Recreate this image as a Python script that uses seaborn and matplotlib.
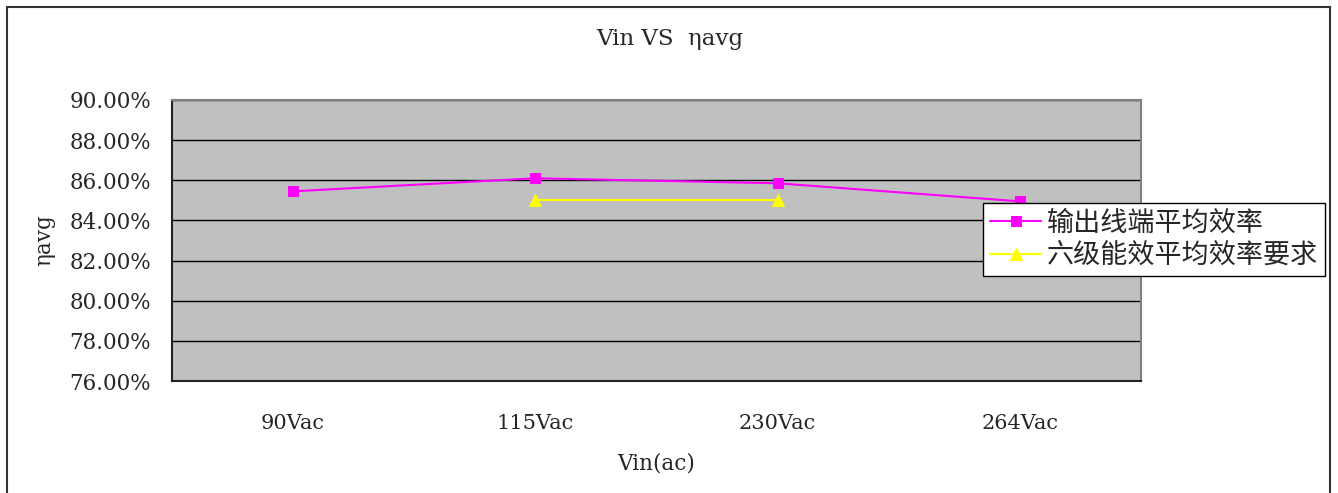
import matplotlib
matplotlib.use("Agg")
import matplotlib.pyplot as plt
from matplotlib.patches import Rectangle
from matplotlib.ticker import FixedLocator, FuncFormatter
import seaborn as sns
import pandas as pd

categories = ["90Vac", "115Vac", "230Vac", "264Vac"]
eff_output = [85.45, 86.10, 85.85, 84.95]
req_categories = ["115Vac", "230Vac"]
eff_required = [85.0, 85.0]
series_names = ["输出线端平均效率", "六级能效平均效率要求"]
y_ticks = [76, 78, 80, 82, 84, 86, 88, 90]

sns.set_style("white")
plt.rcParams["font.family"] = ["DejaVu Serif", "Noto Sans CJK SC", "DejaVu Sans"]

fig = plt.figure(figsize=(13.38, 4.93), dpi=100)
ax = fig.add_axes([172/1338, 1-381/493, (1141-172)/1338, (381-100)/493])
ax.set_facecolor("#C0C0C0")

df1 = pd.DataFrame({"Vin": categories, "eff": eff_output})
df2 = pd.DataFrame({"Vin": req_categories, "eff": eff_required})
pos = {c: i for i, c in enumerate(categories)}
df1["x"] = df1["Vin"].map(pos)
df2["x"] = df2["Vin"].map(pos)

sns.lineplot(data=df1, x="x", y="eff", ax=ax, color="#FF00FF", marker="s",
             markersize=7.5, markeredgecolor="#FF00FF", linewidth=1.5,
             label=series_names[0], legend=False)
sns.lineplot(data=df2, x="x", y="eff", ax=ax, color="#FFFF00", marker="^",
             markersize=9, markeredgecolor="#FFFF00", linewidth=1.5,
             label=series_names[1], legend=False)

ax.set_xlim(-0.5, len(categories) - 0.5)
ax.set_ylim(76, 90)
ax.set_yticks(y_ticks)
ax.yaxis.set_major_formatter(FuncFormatter(lambda v, p: f"{v:.2f}%"))
ax.set_xticks(range(len(categories)))
ax.set_xticklabels(categories)
ax.xaxis.set_minor_locator(FixedLocator([0.5, 1.5, 2.5]))
ax.tick_params(axis="x", which="major", length=0, pad=24, labelsize=15)
ax.tick_params(axis="x", which="minor", direction="in", length=7, width=1, color="black")
ax.tick_params(axis="y", which="major", direction="out", length=7, width=1.2,
               color="black", labelsize=15.5, pad=8)
ax.grid(axis="y", color="black", linewidth=1.0)
ax.set_axisbelow(True)

for s in ["left", "bottom"]:
    ax.spines[s].set_color("#222222")
    ax.spines[s].set_linewidth(1.5)
for s in ["top", "right"]:
    ax.spines[s].set_color("#808080")
    ax.spines[s].set_linewidth(1.5)
    ax.spines[s].set_visible(True)

ax.set_xlabel("Vin(ac)", fontsize=15.5, labelpad=14)
ax.set_ylabel("ηavg", fontsize=15.5, labelpad=10)
fig.text(670/1338, 1-39/493, "Vin VS  ηavg", ha="center", va="center", fontsize=16.5)

handles, labels = ax.get_legend_handles_labels()
leg = fig.legend(handles, labels, loc="upper left",
                 bbox_to_anchor=(983/1338, 1-203/493), frameon=True, fancybox=False,
                 framealpha=1, facecolor="white", edgecolor="black",
                 prop={"family": ["Noto Sans CJK SC"], "size": 19.5},
                 borderpad=0.25, handlelength=1.9, handletextpad=0.2,
                 labelspacing=0.2, borderaxespad=0)
leg.get_frame().set_linewidth(1.0)

fig.patches.append(Rectangle((7/1338, -0.01), (1330-7)/1338, 1-7/493 + 0.01,
                             transform=fig.transFigure, fill=False,
                             edgecolor="#333333", linewidth=1.5))

fig.savefig("out.png", dpi=100)
